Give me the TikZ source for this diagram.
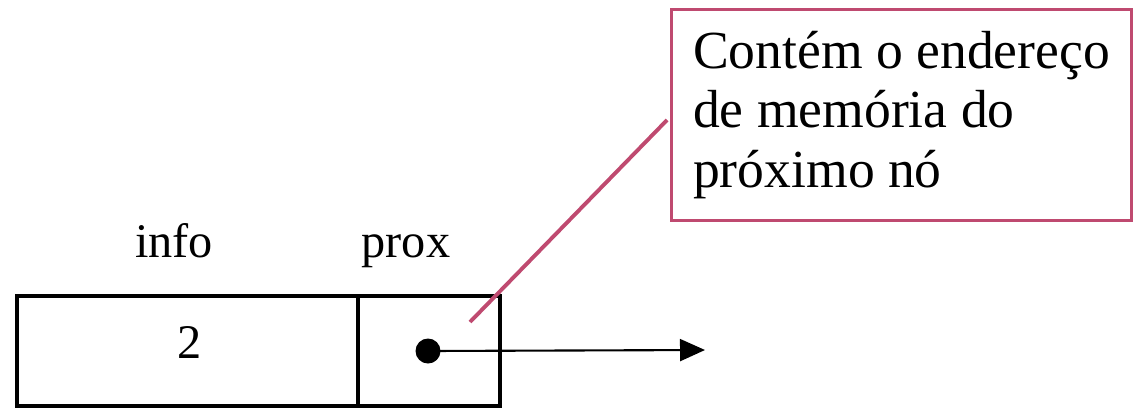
\documentclass[tikz,border=0pt]{standalone}
\usepackage{fontspec}
\setmainfont{Liberation Serif}
\usepackage{tikz}
\usetikzlibrary{arrows.meta, positioning, calc}
\usepackage{xcolor}
\definecolor{NoteRose}{HTML}{BF4A70}
\definecolor{CellBlack}{HTML}{000000}
\tikzset{
    % Cell styles
    cell/.style={
        rectangle,
        draw=CellBlack,
        line width=2.3pt,
        minimum height=2.2cm,
        inner sep=0pt
    },
    fieldlabel/.style={
        font=\fontsize{27.5}{32}\selectfont,
        anchor=base,
        inner sep=0pt
    },
    pointerdot/.style={
        circle,
        fill=CellBlack,
        minimum size=0.5cm,
        inner sep=0pt
    },
    note/.style={
        rectangle,
        draw=NoteRose,
        line width=1.7pt,
        minimum width=9.2cm,
        minimum height=4.22cm,
        align=left,
        font=\fontsize{30.5}{34}\selectfont
    },
    % Connector styles
    arrow/.style={
        -{Triangle[length=0.5cm, width=0.44cm]},
        line width=1.2pt,
        draw=CellBlack
    },
    noteline/.style={
        line width=2.2pt,
        draw=NoteRose
    }
}
\begin{document}
\begin{tikzpicture}[x=0.02cm, y=-0.02cm]
    \useasboundingbox (0,0) rectangle (1136,407);

    \node[cell, minimum width=6.82cm] (info) at (187.5,351) {};
    \node[cell, minimum width=2.84cm] (prox) at (429,351) {};
    \node[fieldlabel] (valor) at (190,358) {2};

    \node[fieldlabel] (infolbl) at (174,257) {info};
    \node[fieldlabel] (proxlbl) at (406,257) {prox};

    \node[pointerdot] (dot) at (428,351) {};
    \coordinate (next) at (705,350);
    \draw[arrow] (dot.center) -- (next);

    \node[note] (callout) at (901.5,115) {Contém o endereço\\de memória do\\próximo nó};
    \coordinate (tip) at (470,322);
    \draw[noteline] ($(callout.west)+(-3,5)$) -- (tip);
\end{tikzpicture}
\end{document}
